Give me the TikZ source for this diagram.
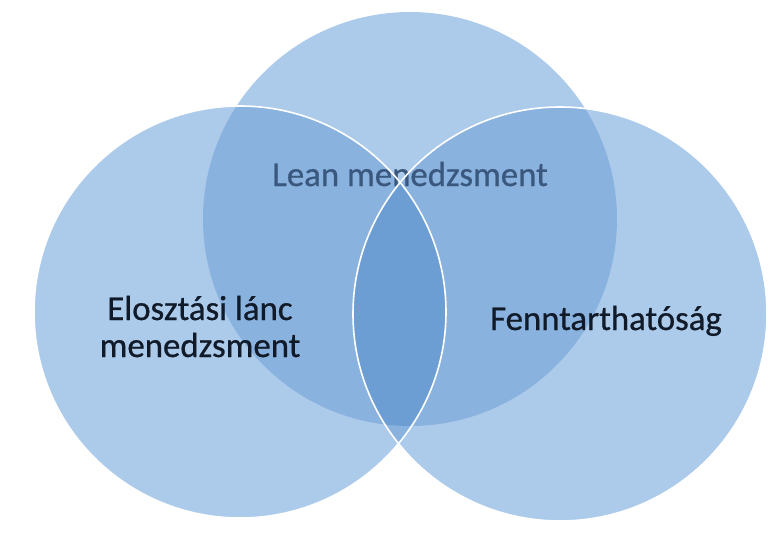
\documentclass[tikz,border=0pt]{standalone}
\usepackage{fontspec}
\setmainfont{Carlito}
\newfontfamily\vennfont[FakeBold=0.7]{Carlito}
\definecolor{vsingle}{RGB}{172,203,235}
\definecolor{vdouble}{RGB}{138,178,222}
\definecolor{vtriple}{RGB}{108,158,212}
\definecolor{leantext}{RGB}{58,88,126}
\definecolor{darktext}{RGB}{16,26,40}
\tikzset{
  vlabel/.style={font=\vennfont\fontsize{34.8}{37}\selectfont, inner sep=0pt, align=center},
  vline/.style={draw=white, line width=1.6pt}
}
\begin{document}
\begin{tikzpicture}[x=1pt,y=-1pt]
\useasboundingbox (0,0) rectangle (772,546);
% single fills
\fill[vsingle] (410,219) circle[radius=207];
\fill[vsingle] (240,312) circle[radius=206];
\fill[vsingle] (560,314) circle[radius=207];
% pairwise overlaps
\begin{scope}
  \clip (410,219) circle[radius=207];
  \fill[vdouble] (240,312) circle[radius=206];
  \fill[vdouble] (560,314) circle[radius=207];
\end{scope}
\begin{scope}
  \clip (240,312) circle[radius=206];
  \fill[vdouble] (560,314) circle[radius=207];
\end{scope}
% triple overlap
\begin{scope}
  \clip (410,219) circle[radius=207];
  \clip (240,312) circle[radius=206];
  \fill[vtriple] (560,314) circle[radius=207];
\end{scope}
% top label (under the outlines)
\node[vlabel, text=leantext, anchor=base] (lean) at (410,186) {Lean menedzsment};
% outlines
\draw[vline] (240,312) circle[radius=206];
\draw[vline] (560,314) circle[radius=207];
% other labels
\node[vlabel, text=darktext, anchor=base] (elo) at (200,320) {Elosztási lánc};
\node[vlabel, text=darktext, anchor=base] (elo2) at (200,357) {menedzsment};
\node[vlabel, text=darktext, anchor=base] (fenn) at (606,330) {Fenntarthatóság};
\end{tikzpicture}
\end{document}
